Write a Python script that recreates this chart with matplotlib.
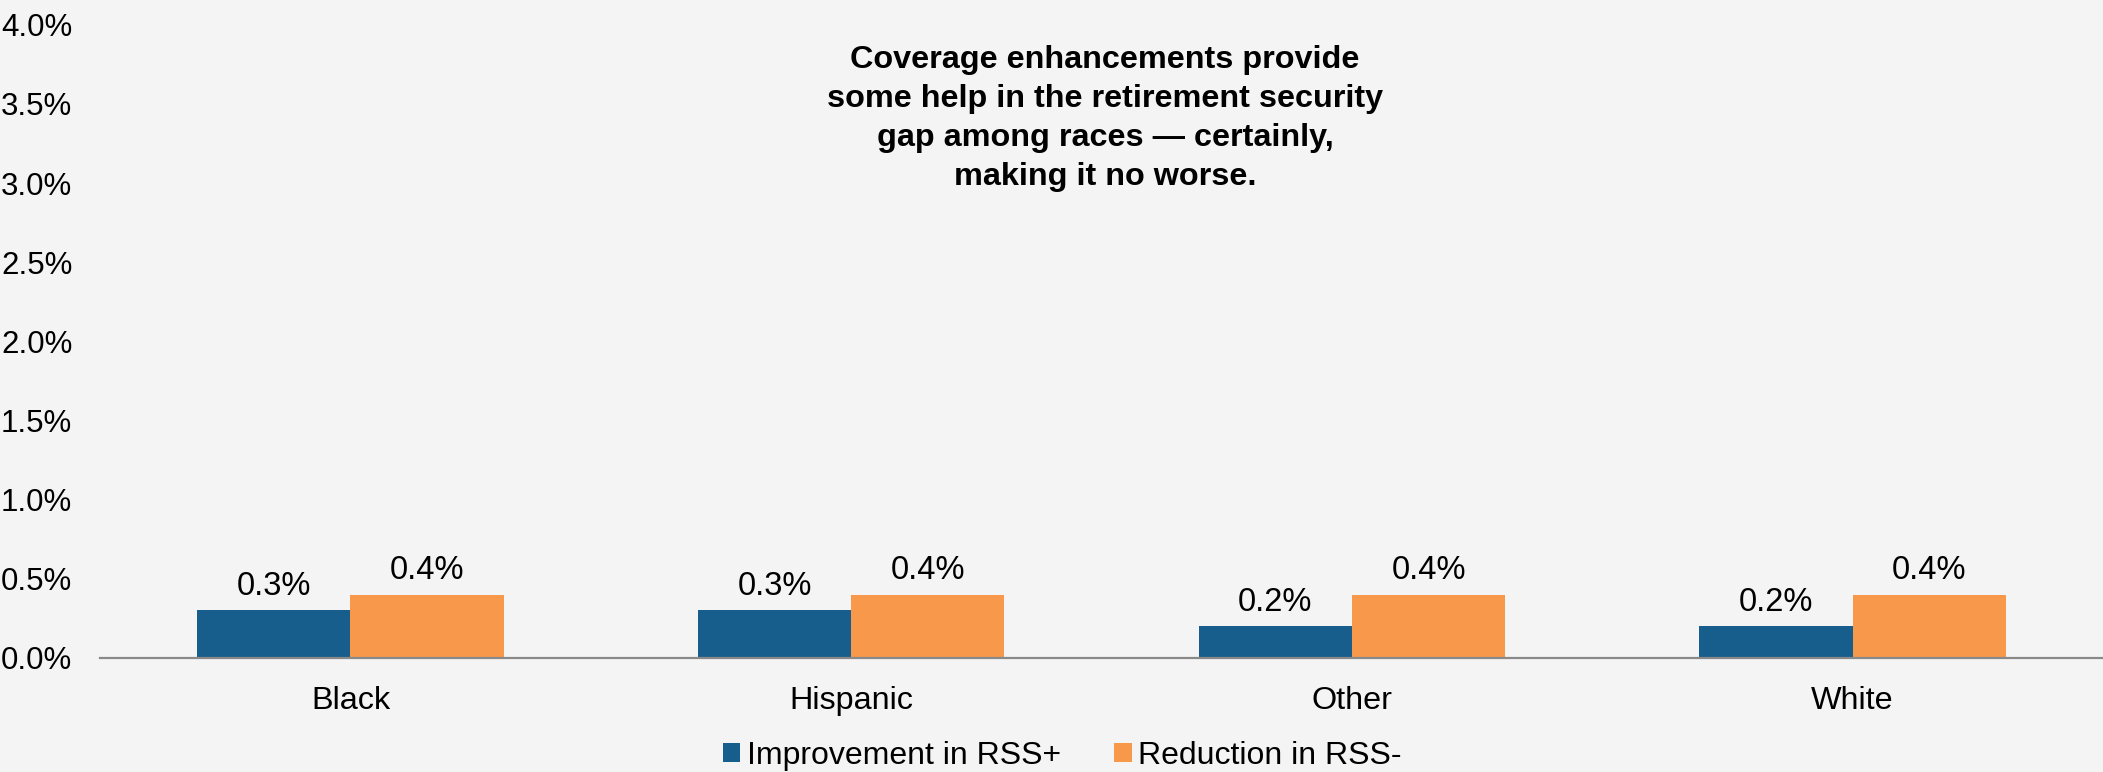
import numpy as np
import matplotlib.pyplot as plt

# data
categories = ['Black', 'Hispanic', 'Other', 'White']
rss_plus = [0.3, 0.3, 0.2, 0.2]
rss_minus = [0.4, 0.4, 0.4, 0.4]
series_names = ['Improvement in RSS+', 'Reduction in RSS-']
y_ticks = [0.0, 0.5, 1.0, 1.5, 2.0, 2.5, 3.0, 3.5, 4.0]
title = ('Coverage enhancements provide\nsome help in the retirement security\n'
         'gap among races \u2014 certainly,\nmaking it no worse.')

plt.rcParams['font.family'] = ['Liberation Sans', 'DejaVu Sans']
bg = '#f4f4f4'
blue = '#185e8d'
orange = '#f7984a'

fig = plt.figure(figsize=(21.03, 7.72), dpi=100, facecolor=bg)
ax = fig.add_axes([0.0476, 0.1477, 0.9524, 0.8203], facecolor=bg)

x = np.arange(len(categories))
w = 0.306
b1 = ax.bar(x - w / 2, rss_plus, w, color=blue, label=series_names[0])
b2 = ax.bar(x + w / 2, rss_minus, w, color=orange, label=series_names[1])

# value labels above bars
for bars, vals in ((b1, rss_plus), (b2, rss_minus)):
    for r, v in zip(bars, vals):
        ax.annotate(f'{v:.1f}%', (r.get_x() + r.get_width() / 2, v),
                    xytext=(0, 17.5), textcoords='offset points',
                    ha='center', va='center', fontsize=23.5)

ax.set_xlim(-0.5, len(categories) - 0.5)
ax.set_ylim(0, 4.0)
ax.set_yticks(y_ticks)
ax.set_yticklabels([f'{t:.1f}%' for t in y_ticks])
ax.set_xticks(x)
ax.set_xticklabels(categories)
ax.tick_params(axis='y', length=0, pad=20, labelsize=22.5)
ax.tick_params(axis='x', length=0, pad=20, labelsize=23.3)

for s in ('top', 'right', 'left'):
    ax.spines[s].set_visible(False)
ax.spines['bottom'].set_color('#898989')
ax.spines['bottom'].set_linewidth(1.6)

fig.text(0.5255, 0.846, title, ha='center', va='center', fontsize=23.3,
         fontweight='bold', multialignment='center', linespacing=1.39)

fig.legend(handles=[b1, b2], loc='center', bbox_to_anchor=(0.505, 0.021),
           ncol=2, frameon=False, fontsize=23, handlelength=0.56,
           handleheight=0.56, handletextpad=0.2, columnspacing=1.65,
           borderpad=0)

fig.savefig('out.png', dpi=100, facecolor=bg)
